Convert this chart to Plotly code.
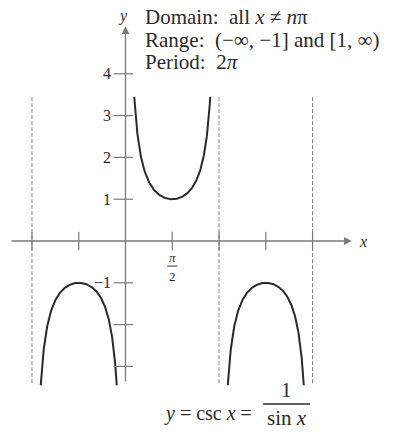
import numpy as np
import plotly.graph_objects as go

# Branches of y = csc x that are drawn, as (start, end) in radians,
# and the |y| level at which each branch is cut off.
branch_starts = [-np.pi, 0.0, np.pi]
branch_ends = [0.0, np.pi, 2 * np.pi]
clip_level = 3.45

# Vertical asymptotes shown as dashed lines
asymptotes = [-np.pi, np.pi, 2 * np.pi]

# Axis ticks
y_ticks = [4, 3, 2, 1, -1, -2, -3]
y_tick_labels = ["4", "3", "2", "1", "\u22121", "", ""]
x_ticks = [-np.pi, -np.pi / 2, np.pi / 2, np.pi, 3 * np.pi / 2, 2 * np.pi]

info_lines = [
    "Domain:  all <i>x</i> \u2260 <i>n</i>\u03c0",
    "Range:  (\u2212\u221e, \u22121] and [1, \u221e)",
    "Period:  2<i>\u03c0</i>",
]

SERIF = "Liberation Serif, Times New Roman, serif"
INK = "#2a2a2a"
AXIS = "#7a7a7a"

W, H = 401, 437
X0_PX, Y0_PX = 125.5, 241.0
PX_X, PX_Y = 29.77, 41.8
x_range = [-X0_PX / PX_X, (W - X0_PX) / PX_X]
y_range = [-(H - Y0_PX) / PX_Y, Y0_PX / PX_Y]

fig = go.Figure()

# csc curve branches
cut = np.arcsin(1 / clip_level)
for a, b in zip(branch_starts, branch_ends):
    xs = np.linspace(a + cut, b - cut, 300)
    ys = 1 / np.sin(xs)
    fig.add_trace(go.Scatter(x=xs, y=ys, mode="lines",
                             line=dict(color=INK, width=2),
                             hoverinfo="skip", showlegend=False))

# Asymptotes
for a in asymptotes:
    fig.add_shape(type="line", x0=a, x1=a, y0=-3.4, y1=clip_level,
                  line=dict(color="#808080", width=1, dash="4px,2px"))

# Axes with arrow heads
fig.add_annotation(x=7.6, y=0, ax=-3.88, ay=0, axref="x", ayref="y",
                   xref="x", yref="y", text="", showarrow=True,
                   arrowhead=2, arrowsize=1.2, arrowwidth=1.3, arrowcolor=AXIS)
fig.add_annotation(x=0, y=5.14, ax=0, ay=-3.4, axref="x", ayref="y",
                   xref="x", yref="y", text="", showarrow=True,
                   arrowhead=2, arrowsize=1.2, arrowwidth=1.3, arrowcolor=AXIS)

fig.add_annotation(x=7.98, y=0, text="<i>x</i>", showarrow=False,
                   font=dict(family=SERIF, size=16, color=INK))
fig.add_annotation(x=-0.1, y=5.38, text="<i>y</i>", showarrow=False,
                   font=dict(family=SERIF, size=16, color=INK))

# Tick marks and labels
for v, lab in zip(y_ticks, y_tick_labels):
    fig.add_shape(type="line", x0=-0.4, x1=0.25, y0=v, y1=v,
                  line=dict(color=AXIS, width=1.2))
    if lab:
        fig.add_annotation(x=-0.42, y=v, text=lab, showarrow=False,
                           xanchor="right",
                           font=dict(family=SERIF, size=16, color=INK))
for v in x_ticks:
    fig.add_shape(type="line", x0=v, x1=v, y0=-0.22, y1=0.22,
                  line=dict(color=AXIS, width=1.2))

# pi/2 label as a stacked fraction
fig.add_annotation(x=np.pi / 2, y=-0.4, text="<i>\u03c0</i>", showarrow=False,
                   font=dict(family=SERIF, size=13, color=INK))
fig.add_shape(type="line", x0=np.pi / 2 - 0.17, x1=np.pi / 2 + 0.17,
              y0=-0.6, y1=-0.6, line=dict(color=INK, width=1))
fig.add_annotation(x=np.pi / 2, y=-0.86, text="2", showarrow=False,
                   font=dict(family=SERIF, size=13, color=INK))

# Domain / range / period text
for i, line in enumerate(info_lines):
    fig.add_annotation(x=0.58, y=5.35 - i * 0.53, text=line, showarrow=False,
                       xanchor="left",
                       font=dict(family=SERIF, size=21, color=INK))

# Caption y = csc x = 1 / sin x
fig.add_annotation(x=4.3, y=-4.12, text="<i>y</i> = csc <i>x</i> =",
                   showarrow=False, xanchor="right",
                   font=dict(family=SERIF, size=20, color=INK))
fig.add_annotation(x=5.42, y=-3.56, text="1", showarrow=False,
                   font=dict(family=SERIF, size=21, color=INK))
fig.add_shape(type="line", x0=4.62, x1=6.2, y0=-3.9, y1=-3.9,
              line=dict(color=INK, width=1.3))
fig.add_annotation(x=5.42, y=-4.24, text="sin <i>x</i>", showarrow=False,
                   font=dict(family=SERIF, size=21, color=INK))

fig.update_layout(
    width=W, height=H,
    margin=dict(l=0, r=0, t=0, b=0),
    paper_bgcolor="white", plot_bgcolor="white",
    xaxis=dict(range=x_range, visible=False, fixedrange=True),
    yaxis=dict(range=y_range, visible=False, fixedrange=True),
)

fig.write_html("out.html")
